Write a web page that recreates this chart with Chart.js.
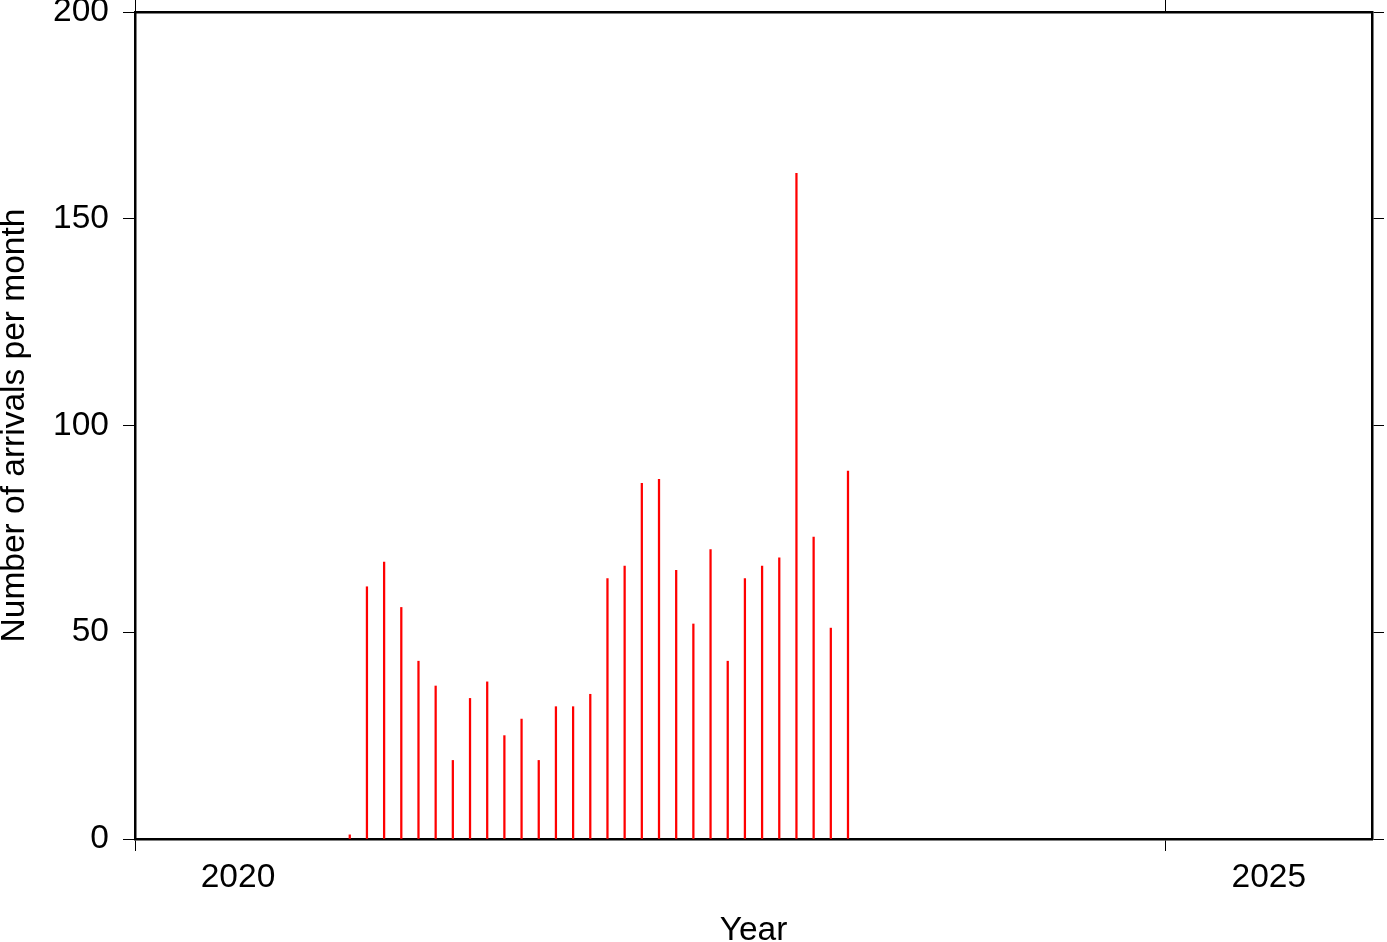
<!DOCTYPE html>
<html>
<head>
<meta charset="utf-8">
<script src="https://cdn.jsdelivr.net/npm/chart.js@4.4.1/dist/chart.umd.min.js"></script>
<style>
  html, body { margin: 0; padding: 0; background: #fff; }
  canvas { display: block; }
</style>
</head>
<body>
<canvas id="c" width="1387" height="942"></canvas>
<script>
// ---- data ----
const months = ['2021-01','2021-02','2021-03','2021-04','2021-05','2021-06','2021-07','2021-08','2021-09','2021-10','2021-11','2021-12',
                '2022-01','2022-02','2022-03','2022-04','2022-05','2022-06','2022-07','2022-08','2022-09','2022-10','2022-11','2022-12',
                '2023-01','2023-02','2023-03','2023-04','2023-05','2023-06'];
const arrivals = [1, 61, 67, 56, 43, 37, 19, 34, 38, 25, 29, 19,
                  32, 32, 35, 63, 66, 86, 87, 65, 52, 70, 43, 63,
                  66, 68, 161, 73, 51, 89];
const xTickYears = [2020, 2025];
const yTicks = [0, 50, 100, 150, 200];
const xRange = [2020, 2026];
const yRange = [0, 200];

// month string -> decimal year at mid-month
function monthToYear(m) {
  const [y, mo] = m.split('-').map(Number);
  return y + (mo - 0.5) / 12;
}
const points = months.map((m, i) => ({ x: monthToYear(m), y: arrivals[i] }));

const FONT = { family: "'Liberation Sans', Arial, Helvetica, sans-serif", size: 33.5 };
const W = 1387, H = 942;
const PLOT = { left: 135, right: 1372, top: 12, bottom: 839 };

const setTicks = (arr) => (scale) => { scale.ticks = arr.map(v => ({ value: v })); };
const noPad = (s) => { s.paddingTop = 0; s.paddingBottom = 0; s.paddingLeft = 0; s.paddingRight = 0; };

new Chart(document.getElementById('c'), {
  type: 'bar',
  data: {
    datasets: [{
      data: points,
      backgroundColor: 'rgb(255,0,0)',
      borderWidth: 0,
      barThickness: 1.6,
      xAxisID: 'x',
      yAxisID: 'y'
    }]
  },
  options: {
    responsive: false,
    animation: false,
    events: [],
    layout: { padding: 0 },
    plugins: { legend: { display: false }, tooltip: { enabled: false } },
    scales: {
      x: {
        type: 'linear',
        position: 'bottom',
        min: xRange[0], max: xRange[1],
        offset: false,
        afterBuildTicks: setTicks(xTickYears),
        afterFit: (s) => { s.height = H - PLOT.bottom; noPad(s); },
        grid: { offset: false, drawOnChartArea: false, drawTicks: true, tickLength: 12, color: '#000', lineWidth: 1 },
        border: { display: true, color: '#000', width: 2.5 },
        ticks: {
          color: '#000', font: FONT, padding: 7, maxRotation: 0, autoSkip: false,
          labelOffset: 103,
          callback: (v) => String(v)
        },
        title: { display: true, text: 'Year', color: '#000', font: FONT, padding: { top: 0, bottom: -9 } }
      },
      xTop: {
        type: 'linear',
        position: 'top',
        min: xRange[0], max: xRange[1],
        offset: false,
        afterBuildTicks: setTicks(xTickYears),
        afterFit: (s) => { s.height = PLOT.top; noPad(s); },
        grid: { offset: false, drawOnChartArea: false, drawTicks: true, tickLength: 12, color: '#000', lineWidth: 1 },
        border: { display: true, color: '#000', width: 2.5 },
        ticks: { display: false }
      },
      y: {
        type: 'linear',
        position: 'left',
        min: yRange[0], max: yRange[1],
        afterBuildTicks: setTicks(yTicks),
        afterFit: (s) => { s.width = PLOT.left; noPad(s); },
        grid: { drawOnChartArea: false, drawTicks: true, tickLength: 12, color: '#000', lineWidth: 1 },
        border: { display: true, color: '#000', width: 2.5 },
        ticks: { color: '#000', font: FONT, padding: 14, callback: (v) => String(v) },
        title: { display: true, text: 'Number of arrivals per month', color: '#000', font: { ...FONT, lineHeight: 1 }, padding: { top: -2, bottom: 0 } }
      },
      yRight: {
        type: 'linear',
        position: 'right',
        min: yRange[0], max: yRange[1],
        afterBuildTicks: setTicks(yTicks),
        afterFit: (s) => { s.width = W - PLOT.right; noPad(s); },
        grid: { drawOnChartArea: false, drawTicks: true, tickLength: 12, color: '#000', lineWidth: 1 },
        border: { display: true, color: '#000', width: 2.5 },
        ticks: { display: false }
      }
    }
  }
});
</script>
</body>
</html>
